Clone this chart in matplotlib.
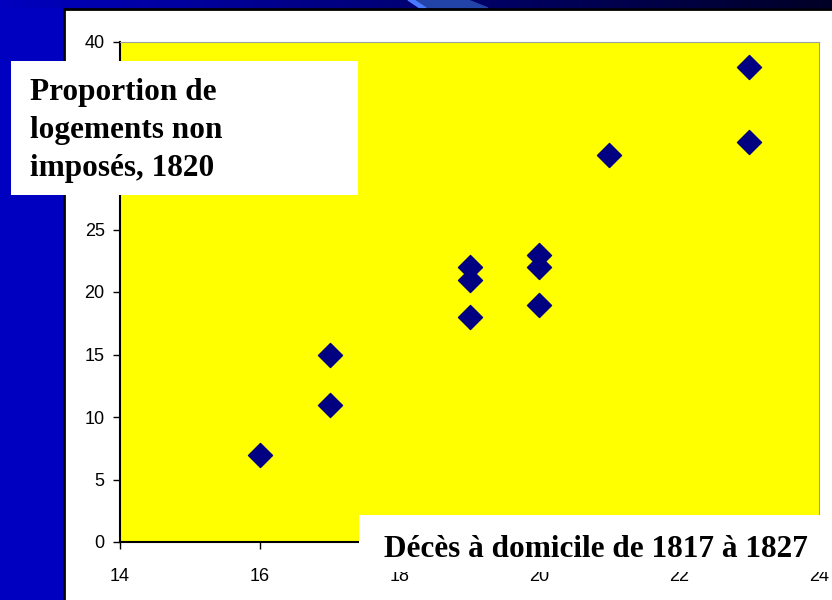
import numpy as np
import matplotlib.pyplot as plt
from matplotlib.patches import Rectangle, Polygon

# données
deces = [16, 17, 17, 19, 19, 19, 20, 20, 20, 21, 23, 23]
non_imposes = [7, 15, 11, 22, 21, 18, 23, 22, 19, 31, 38, 32]
x_ticks = [14, 16, 18, 20, 22, 24]
y_ticks = [0, 5, 10, 15, 20, 25, 30, 35, 40]
# 30 et 35 sont cachés par le cadre du titre
y_ticklabels = ['0', '5', '10', '15', '20', '25', '', '', '40']
ylabel_txt = "Proportion de\nlogements non\nimposés, 1820"
xlabel_txt = "Décès à domicile de 1817 à 1827"

W, H = 832, 600
fig = plt.figure(figsize=(W / 100, H / 100), dpi=100)

def fx(px):
    return px / W

def fy(py):
    return 1 - py / H

# fond de diapositive (bleu)
bg = fig.add_axes([0, 0, 1, 1], zorder=-10)
bg.set_xlim(0, W)
bg.set_ylim(H, 0)
bg.axis('off')
bg.add_patch(Rectangle((0, 0), W, H, color='#0000c0'))
grad = np.linspace(0, 1, 256)
cols = np.zeros((1, 256, 3))
cols[0, :, 2] = 0.75 - 0.6 * grad
bg.imshow(cols, extent=(0, W, 8, 0), aspect='auto', zorder=1)
bg.add_patch(Polygon([(408, 0), (468, 0), (488, 8), (420, 8)], color='#2244a8', zorder=2))
bg.add_patch(Polygon([(408, 0), (414, 0), (426, 8), (420, 8)], color='#4a78ff', zorder=3))

# zone du graphique (blanche, bord noir)
bg.add_patch(Rectangle((64, 9), W, H, facecolor='white', edgecolor='black', linewidth=2, zorder=4))

ax = fig.add_axes([fx(120), fy(542), fx(819) - fx(120), fy(42) - fy(542)])
ax.set_facecolor('#ffff00')
ax.scatter(deces, non_imposes, marker='D', s=150, color='#000080', zorder=3)
ax.set_xlim(14, 24)
ax.set_ylim(0, 40)
ax.set_xticks(x_ticks)
ax.set_yticks(y_ticks, y_ticklabels)
ax.tick_params(direction='out', length=5, width=1, labelsize=13)
ax.tick_params(axis='y', pad=6)
ax.tick_params(axis='x', pad=14)
for lab in ax.get_xticklabels() + ax.get_yticklabels():
    lab.set_family('Liberation Sans')
ax.spines['top'].set_color('#a0a0a0')
ax.spines['right'].set_color('#a0a0a0')
ax.spines['left'].set_linewidth(1.5)
ax.spines['bottom'].set_linewidth(1.5)

# cadres des titres d'axes
fig.patches.append(Rectangle((fx(11), fy(195)), fx(347), 134 / H, facecolor='white',
                             edgecolor='none', transform=fig.transFigure, zorder=2))
fig.patches.append(Rectangle((fx(359), fy(572)), fx(480), 57 / H, facecolor='white',
                             edgecolor='none', transform=fig.transFigure, zorder=2))

fig.text(fx(30), fy(78), ylabel_txt, family='Liberation Serif', weight='bold',
         fontsize=22.5, va='top', ha='left', linespacing=1.4, zorder=5)
fig.text(fx(384), fy(557), xlabel_txt, family='Liberation Serif', weight='bold',
         fontsize=22.5, va='baseline', ha='left', zorder=5)

plt.savefig('out.png', dpi=100)
